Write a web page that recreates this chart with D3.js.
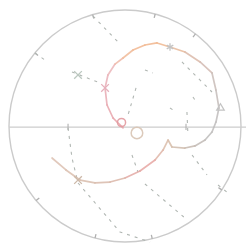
<!DOCTYPE html>
<html>
<head>
<meta charset="utf-8">
<script src="https://cdn.jsdelivr.net/npm/d3@7"></script>
<style>
  body { margin: 0; background: #fff; }
</style>
</head>
<body>
<svg id="chart"></svg>
<script>
// spiral trace, unit coords (x right, y up)
var traceX = [-0.017, -0.103, -0.155, -0.172, -0.147, -0.086, -0.017, 0.069, 0.172, 0.276, 0.388, 0.517, 0.647, 0.750, 0.784, 0.810, 0.784, 0.750, 0.690, 0.603, 0.517, 0.405, 0.371, 0.328, 0.259, 0.129, 0.000, -0.129, -0.259, -0.388, -0.509, -0.629]
var traceY = [-0.017, 0.069, 0.181, 0.328, 0.440, 0.534, 0.586, 0.655, 0.698, 0.716, 0.681, 0.638, 0.552, 0.457, 0.310, 0.155, 0.034, -0.052, -0.121, -0.172, -0.190, -0.181, -0.121, -0.207, -0.293, -0.388, -0.448, -0.483, -0.491, -0.466, -0.379, -0.276]
var traceColors = ["#e6a0a6", "#e8a8b0", "#eab4bc", "#f0bc9c", "#f2b48a", "#f0b890", "#d8b8ac", "#c8bcb8", "#c0bcbc", "#bcbcbc", "#c4b8b0", "#d4bca8", "#dcbcaa", "#e8a0a0", "#d8b8a8", "#d8bcac", "#dcc0b0"]

// little loops at the centre
var loopX = [-0.030, 0.103]
var loopY = [0.030, -0.060]
var loopR = [0.035, 0.050]
var loopColors = ["#e29aa0", "#d8c4b4"]

// dashed guide segments
var dashSegments = [
    [[-0.276, 0.948], [-0.060, 0.724]],
    [[-0.776, 0.629], [-0.690, 0.569]],
    [[-0.457, 0.466], [-0.216, 0.371]],
    [[-0.491, -0.017], [-0.457, -0.276], [-0.405, -0.491], [-0.043, -0.914], [0.216, -1.000]],
    [[0.060, -0.250], [0.112, -0.397]],
    [[0.172, -0.500], [0.517, -0.793]],
    [[0.578, -0.250], [0.707, -0.422]],
    [[0.802, -0.509], [0.888, -0.578]],
    [[0.534, 0.121], [0.543, -0.086]],
    [[0.491, 0.552], [0.750, 0.293]],
    [[0.172, 0.483], [0.241, 0.457]],
    [[0.095, 0.328], [0.026, 0.095]],
    [[0.388, 0.155], [0.414, 0.138]],
    [[0.586, 0.250], [0.603, 0.224]]
]

var circleTickAngles = [52.6, 74.9, 106.2, 141, 220, 255, 283.6, 326.6]
var axisTicks = [-0.491, 0.526]

var markers = [
    {x: -0.172, y: 0.328, sym: d3.symbolTimes, color: "#e6b0bc"},
    {x: 0.388, y: 0.681, sym: d3.symbolAsterisk, color: "#c4c4c4"},
    {x: 0.823, y: 0.155, sym: d3.symbolTriangle2, color: "#c4c4c4"},
    {x: -0.405, y: -0.466, sym: d3.symbolTimes, color: "#ccb8a8"},
    {x: -0.405, y: 0.440, sym: d3.symbolTimes, color: "#bcc8c0"}
]

var dimensions = {
    width: 246,
    height: 245,
    cx: 125,
    cy: 126,
    r: 116
}

var svg = d3.select("#chart")
    .attr("width", dimensions.width)
    .attr("height", dimensions.height)

var xScale = d3.scaleLinear()
    .domain([-1, 1])
    .range([dimensions.cx - dimensions.r, dimensions.cx + dimensions.r])

var yScale = d3.scaleLinear()
    .domain([-1, 1])
    .range([dimensions.cy + dimensions.r, dimensions.cy - dimensions.r])

var line = d3.line()
    .x(function (d) { return xScale(d[0]) })
    .y(function (d) { return yScale(d[1]) })

svg.append("circle")
    .attr("cx", xScale(0))
    .attr("cy", yScale(0))
    .attr("r", xScale(1) - xScale(0))
    .attr("fill", "none")
    .attr("stroke", "#cbcbcb")
    .attr("stroke-width", 1.4)

svg.append("path")
    .attr("d", line([[-1, -0.01], [1.05, -0.01]]))
    .attr("stroke", "#cdcdcd")
    .attr("stroke-width", 1.4)
    .attr("fill", "none")

svg.selectAll(".circle-tick")
    .data(circleTickAngles)
    .enter()
    .append("path")
    .attr("class", "circle-tick")
    .attr("d", function (a) {
        var t = a * Math.PI / 180
        return line([[0.965 * Math.cos(t), 0.965 * Math.sin(t)], [Math.cos(t), Math.sin(t)]])
    })
    .attr("stroke", "#b0b0b0")
    .attr("stroke-width", 1.3)

svg.selectAll(".axis-tick")
    .data(axisTicks)
    .enter()
    .append("path")
    .attr("class", "axis-tick")
    .attr("d", function (d) { return line([[d, 0.02], [d, -0.035]]) })
    .attr("stroke", "#b0b0b0")
    .attr("stroke-width", 1.1)

svg.selectAll(".dash")
    .data(dashSegments)
    .enter()
    .append("path")
    .attr("class", "dash")
    .attr("d", line)
    .attr("fill", "none")
    .attr("stroke", "#b0b6b2")
    .attr("stroke-width", 1.1)
    .attr("stroke-dasharray", "3,5")

var trace = traceX.map(function (x, i) { return [x, traceY[i]] })
var colorScale = d3.scaleLinear()
    .domain(d3.range(traceColors.length).map(function (i) { return i * (trace.length - 2) / (traceColors.length - 1) }))
    .range(traceColors)

svg.selectAll(".trace")
    .data(d3.range(trace.length - 1))
    .enter()
    .append("path")
    .attr("class", "trace")
    .attr("d", function (i) { return line([trace[i], trace[i + 1]]) })
    .attr("fill", "none")
    .attr("stroke", function (i) { return colorScale(i) })
    .attr("stroke-opacity", 0.85)
    .attr("stroke-width", 1.7)
    .attr("stroke-linecap", "round")

svg.selectAll(".loop")
    .data(loopX)
    .enter()
    .append("circle")
    .attr("class", "loop")
    .attr("cx", function (d) { return xScale(d) })
    .attr("cy", function (d, i) { return yScale(loopY[i]) })
    .attr("r", function (d, i) { return xScale(loopR[i]) - xScale(0) })
    .attr("fill", "none")
    .attr("stroke", function (d, i) { return loopColors[i] })
    .attr("stroke-opacity", 0.9)
    .attr("stroke-width", 1.5)

svg.selectAll(".marker")
    .data(markers)
    .enter()
    .append("path")
    .attr("class", "marker")
    .attr("transform", function (d) { return "translate(" + xScale(d.x) + "," + yScale(d.y) + ")" })
    .attr("d", function (d) { return d3.symbol().type(d.sym).size(40)() })
    .attr("fill", "none")
    .attr("stroke", function (d) { return d.color })
    .attr("stroke-width", 1.3)
</script>
</body>
</html>
